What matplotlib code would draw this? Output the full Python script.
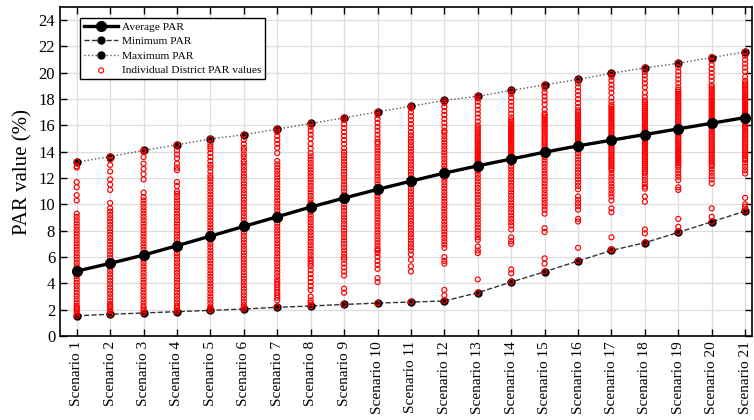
import numpy as np
import matplotlib
matplotlib.use('Agg')
import matplotlib.pyplot as plt

plt.rcParams['font.family'] = ['Liberation Serif', 'DejaVu Serif']

scenarios = ['Scenario ' + str(i) for i in range(1, 22)]

avg_par = [4.93, 5.52, 6.15, 6.86, 7.59, 8.33, 9.06, 9.8, 10.48, 11.14, 11.77,
           12.38, 12.93, 13.45, 13.97, 14.45, 14.88, 15.31, 15.74, 16.17, 16.6]
min_par = [1.54, 1.65, 1.75, 1.85, 1.95, 2.05, 2.18, 2.28, 2.4, 2.5, 2.58,
           2.66, 3.29, 4.1, 4.88, 5.7, 6.5, 7.09, 7.87, 8.68, 9.49]
max_par = [13.21, 13.64, 14.1, 14.53, 14.98, 15.29, 15.72, 16.15, 16.58, 17.03, 17.46,
           17.9, 18.22, 18.66, 19.08, 19.5, 19.97, 20.37, 20.73, 21.16, 21.59]

# individual district values per scenario
s01 = [13.25, 12.9, 12.8, 11.7, 11.3, 10.7, 10.3, 9.3, 9.05, 8.8, 8.55, 8.3, 8.05, 7.8, 7.55, 7.3,
       7.05, 6.8, 6.55, 6.3, 6.05, 5.8, 5.55, 5.3, 5.05, 4.8, 4.55, 4.3, 4.05, 3.8, 3.55, 3.3, 3.05,
       2.8, 2.55, 2.3, 2.15, 2.05, 1.9, 1.75, 1.55]
s02 = [13.65, 13.4, 13.0, 12.5, 11.9, 11.5, 11.1, 10.1, 9.7, 9.45, 9.2, 8.95, 8.7, 8.45, 8.2, 7.95,
       7.7, 7.45, 7.2, 6.95, 6.7, 6.45, 6.2, 5.95, 5.7, 5.45, 5.2, 4.95, 4.7, 4.45, 4.2, 3.95, 3.7,
       3.45, 3.2, 2.95, 2.7, 2.45, 2.3, 2.2, 2.05, 1.9, 1.65]
s03 = [14.1, 14.0, 13.6, 13.1, 12.7, 12.3, 11.9, 10.9, 10.55, 10.3, 10.05, 9.8, 9.55, 9.3, 9.05, 8.8,
       8.55, 8.3, 8.05, 7.8, 7.55, 7.3, 7.05, 6.8, 6.55, 6.3, 6.05, 5.8, 5.55, 5.3, 5.05, 4.8, 4.55,
       4.3, 4.05, 3.8, 3.55, 3.3, 3.05, 2.8, 2.55, 2.3, 2.1, 1.95, 1.75]
s04 = [14.55, 14.1, 13.8, 13.5, 13.1, 12.8, 12.6, 11.7, 11.4, 11.0, 10.8, 10.55, 10.3, 10.05, 9.8,
       9.55, 9.3, 9.05, 8.8, 8.55, 8.3, 8.05, 7.8, 7.55, 7.3, 7.05, 6.8, 6.55, 6.3, 6.05, 5.8, 5.55,
       5.3, 5.05, 4.8, 4.55, 4.3, 4.05, 3.8, 3.55, 3.3, 3.05, 2.8, 2.55, 2.3, 2.15, 2.0, 1.85]
s05 = [14.98, 14.6, 14.4, 14.2, 13.9, 13.6, 13.3, 13.0, 12.8, 12.5, 12.2, 12.0, 11.75, 11.5, 11.25,
       11.0, 10.75, 10.5, 10.25, 10.0, 9.75, 9.5, 9.25, 9.0, 8.75, 8.5, 8.25, 8.0, 7.75, 7.5, 7.25,
       7.0, 6.75, 6.5, 6.25, 6.0, 5.75, 5.5, 5.25, 5.0, 4.75, 4.5, 4.25, 4.0, 3.75, 3.5, 3.25, 3.0,
       2.75, 2.5, 2.25, 2.1, 1.95]
s06 = [15.3, 14.9, 14.6, 14.3, 14.1, 13.8, 13.6, 13.3, 13.1, 12.85, 12.6, 12.35, 12.1, 11.85, 11.6,
       11.35, 11.1, 10.85, 10.6, 10.35, 10.1, 9.85, 9.6, 9.35, 9.1, 8.85, 8.6, 8.35, 8.1, 7.85, 7.6,
       7.35, 7.1, 6.85, 6.6, 6.35, 6.1, 5.85, 5.6, 5.35, 5.1, 4.85, 4.6, 4.35, 4.1, 3.85, 3.6, 3.35,
       3.1, 2.85, 2.6, 2.35, 2.2, 2.05]
s07 = [15.72, 15.5, 15.2, 14.9, 14.6, 14.3, 13.9, 13.3, 13.05, 12.8, 12.55, 12.3, 12.05, 11.8,
       11.55, 11.3, 11.05, 10.8, 10.55, 10.3, 10.05, 9.8, 9.55, 9.3, 9.05, 8.8, 8.55, 8.3, 8.05, 7.8,
       7.55, 7.3, 7.05, 6.8, 6.55, 6.3, 6.05, 5.8, 5.55, 5.3, 5.05, 4.8, 4.55, 4.3, 4.1, 3.9, 3.7,
       3.5, 3.3, 3.1, 2.9, 2.7, 2.2]
s08 = [16.15, 15.9, 15.6, 15.3, 15.0, 14.6, 14.25, 13.9, 13.65, 13.4, 13.15, 12.9, 12.65, 12.4,
       12.15, 11.9, 11.65, 11.4, 11.15, 10.9, 10.65, 10.4, 10.15, 9.9, 9.65, 9.4, 9.15, 8.9, 8.65,
       8.4, 8.15, 7.9, 7.65, 7.4, 7.15, 6.9, 6.65, 6.4, 6.15, 5.9, 5.7, 5.5, 5.3, 5.0, 4.7, 4.4, 4.1,
       3.8, 3.5, 3.0, 2.7, 2.5, 2.28]
s09 = [16.6, 16.4, 16.1, 15.8, 15.5, 15.2, 14.9, 14.6, 14.25, 14.0, 13.75, 13.5, 13.25, 13.0,
       12.75, 12.5, 12.25, 12.0, 11.75, 11.5, 11.25, 11.0, 10.75, 10.5, 10.25, 10.0, 9.75, 9.5,
       9.25, 9.0, 8.75, 8.5, 8.25, 8.0, 7.75, 7.5, 7.25, 7.0, 6.75, 6.5, 6.25, 6.0, 5.8, 5.5, 5.2,
       4.9, 4.6, 3.6, 3.3, 2.4]
s10 = [17.03, 16.8, 16.5, 16.2, 15.9, 15.6, 15.3, 15.0, 14.75, 14.6, 14.35, 14.1, 13.85, 13.6,
       13.35, 13.1, 12.85, 12.6, 12.35, 12.1, 11.85, 11.6, 11.35, 11.1, 10.85, 10.6, 10.35, 10.1,
       9.85, 9.6, 9.35, 9.1, 8.85, 8.6, 8.35, 8.1, 7.85, 7.6, 7.35, 7.1, 6.85, 6.6, 6.5, 6.3, 6.0,
       5.7, 5.4, 5.1, 4.4, 4.1, 2.5]
s11 = [17.46, 17.3, 17.0, 16.7, 16.4, 16.1, 15.8, 15.5, 15.25, 15.0, 14.75, 14.5, 14.25, 14.0,
       13.75, 13.5, 13.25, 13.0, 12.75, 12.5, 12.25, 12.0, 11.75, 11.5, 11.25, 11.0, 10.75, 10.5,
       10.25, 10.0, 9.75, 9.5, 9.25, 9.0, 8.75, 8.5, 8.25, 8.0, 7.75, 7.5, 7.25, 7.0, 6.75, 6.5,
       6.2, 5.8, 5.3, 4.9, 2.6]
s12 = [17.9, 17.7, 17.4, 17.1, 16.8, 16.5, 16.2, 15.9, 15.6, 15.45, 15.2, 14.95, 14.7, 14.45,
       14.2, 13.95, 13.7, 13.45, 13.2, 12.95, 12.7, 12.45, 12.2, 11.95, 11.7, 11.45, 11.2, 10.95,
       10.7, 10.45, 10.2, 9.95, 9.7, 9.45, 9.2, 8.95, 8.7, 8.45, 8.2, 7.95, 7.7, 7.45, 7.2, 6.95,
       6.7, 6.0, 5.7, 5.5, 3.5, 3.1, 2.68]
s13 = [18.25, 18.05, 17.8, 17.5, 17.2, 16.9, 16.6, 16.3, 16.0, 15.85, 15.7, 15.55, 15.4, 15.25,
       15.1, 14.95, 14.8, 14.65, 14.5, 14.35, 14.2, 14.05, 13.9, 13.75, 13.6, 13.45, 13.3, 13.15,
       13.0, 12.75, 12.5, 12.25, 12.0, 11.75, 11.5, 11.25, 11.0, 10.75, 10.5, 10.25, 10.0, 9.75,
       9.5, 9.25, 9.0, 8.75, 8.5, 8.25, 8.0, 7.75, 7.5, 7.3, 6.8, 6.5, 6.3, 4.3, 3.3]
s14 = [18.66, 18.4, 18.1, 17.8, 17.5, 17.2, 16.9, 16.6, 16.4, 16.25, 16.1, 15.95, 15.8, 15.65,
       15.5, 15.35, 15.2, 15.05, 14.9, 14.75, 14.6, 14.45, 14.3, 14.15, 14.0, 13.85, 13.7, 13.55,
       13.4, 13.15, 12.9, 12.65, 12.4, 12.15, 11.9, 11.65, 11.4, 11.15, 10.9, 10.65, 10.4, 10.15,
       9.9, 9.65, 9.4, 9.15, 8.9, 8.65, 8.4, 8.1, 7.5, 7.2, 7.0, 5.06, 4.76, 4.1]
s15 = [19.1, 18.8, 18.5, 18.2, 17.9, 17.6, 17.2, 16.9, 16.8, 16.65, 16.5, 16.35, 16.2, 16.05,
       15.9, 15.75, 15.6, 15.45, 15.3, 15.15, 15.0, 14.85, 14.7, 14.55, 14.4, 14.25, 14.1, 13.95,
       13.8, 13.6, 13.35, 13.1, 12.85, 12.6, 12.35, 12.1, 11.85, 11.6, 11.35, 11.1, 10.85, 10.6,
       10.35, 10.1, 9.85, 9.6, 9.3, 8.2, 7.9, 5.9, 5.5, 4.9]
s16 = [19.5, 19.2, 18.9, 18.6, 18.3, 18.0, 17.7, 17.4, 17.15, 17.0, 16.85, 16.7, 16.55, 16.4,
       16.25, 16.1, 15.95, 15.8, 15.65, 15.5, 15.35, 15.2, 15.05, 14.9, 14.75, 14.6, 14.45, 14.3,
       14.15, 13.9, 13.65, 13.4, 13.15, 12.9, 12.65, 12.4, 12.15, 11.9, 11.65, 11.4, 11.15, 10.6,
       10.35, 10.1, 9.85, 9.6, 8.9, 8.7, 6.7, 5.72]
s17 = [19.95, 19.7, 19.4, 19.1, 18.8, 18.5, 18.1, 17.8, 17.55, 17.4, 17.25, 17.1, 16.95, 16.8,
       16.65, 16.5, 16.35, 16.2, 16.05, 15.9, 15.75, 15.6, 15.45, 15.3, 15.15, 15.0, 14.85, 14.7,
       14.55, 14.4, 14.25, 14.1, 13.95, 13.8, 13.65, 13.5, 13.35, 13.2, 13.05, 12.9, 12.75, 12.6,
       12.35, 12.1, 11.85, 11.6, 11.35, 11.1, 10.85, 10.6, 10.3, 9.7, 9.4, 7.5, 6.6, 6.53]
s18 = [20.4, 20.07, 19.8, 19.5, 19.2, 18.9, 18.5, 18.17, 17.9, 17.75, 17.6, 17.45, 17.3, 17.15,
       17.0, 16.85, 16.7, 16.55, 16.4, 16.25, 16.1, 15.95, 15.8, 15.65, 15.5, 15.35, 15.2, 15.05,
       14.9, 14.75, 14.6, 14.45, 14.3, 14.15, 14.0, 13.85, 13.7, 13.55, 13.4, 13.25, 13.1, 12.95,
       12.8, 12.65, 12.5, 12.35, 12.1, 11.85, 11.6, 11.35, 11.2, 10.6, 10.2, 8.1, 7.8, 7.1]
s19 = [20.75, 20.4, 20.1, 19.8, 19.5, 19.2, 18.9, 18.7, 18.55, 18.4, 18.25, 18.1, 17.95, 17.8,
       17.65, 17.5, 17.35, 17.2, 17.05, 16.9, 16.75, 16.6, 16.45, 16.3, 16.15, 16.0, 15.85, 15.7,
       15.55, 15.4, 15.25, 15.1, 14.95, 14.8, 14.65, 14.5, 14.35, 14.2, 14.05, 13.9, 13.75, 13.6,
       13.45, 13.3, 13.15, 13.0, 12.85, 12.6, 12.35, 12.1, 11.85, 11.3, 11.1, 8.9, 8.3, 7.9]
s20 = [21.2, 20.95, 20.6, 20.3, 20.0, 19.7, 19.4, 19.06, 18.9, 18.75, 18.6, 18.45, 18.3, 18.15,
       18.0, 17.85, 17.7, 17.55, 17.4, 17.25, 17.1, 16.95, 16.8, 16.65, 16.5, 16.35, 16.2, 16.05,
       15.9, 15.75, 15.6, 15.45, 15.3, 15.15, 15.0, 14.85, 14.7, 14.55, 14.4, 14.25, 14.1, 13.95,
       13.8, 13.65, 13.5, 13.35, 13.2, 13.05, 12.9, 12.65, 12.4, 12.15, 11.9, 11.6, 9.7, 9.06, 8.68]
s21 = [21.6, 21.3, 21.0, 20.7, 20.4, 20.1, 19.7, 19.4, 19.2, 19.05, 18.9, 18.75, 18.6, 18.45,
       18.3, 18.15, 18.0, 17.85, 17.7, 17.55, 17.4, 17.25, 17.1, 16.95, 16.8, 16.65, 16.5, 16.35,
       16.2, 16.05, 15.9, 15.75, 15.6, 15.45, 15.3, 15.15, 15.0, 14.85, 14.7, 14.55, 14.4, 14.25,
       14.1, 13.95, 13.8, 13.65, 13.5, 13.35, 13.1, 12.85, 12.6, 12.35, 10.5, 10.0, 9.8, 9.49]

district_par = [s01, s02, s03, s04, s05, s06, s07, s08, s09, s10, s11,
                s12, s13, s14, s15, s16, s17, s18, s19, s20, s21]

x = np.arange(1, len(scenarios) + 1)

fig = plt.figure(figsize=(7.54, 4.2), dpi=100)
ax = fig.add_axes([0.0796, 0.2, 0.9175, 0.7833])

# min / max under the district points, average on top
l_min, = ax.plot(x, min_par, '--', color='#333333', lw=1.0, marker='o', ms=5,
                 mfc='black', mec='black', zorder=2)
l_max, = ax.plot(x, max_par, ':', color='#555555', lw=1.0, marker='o', ms=5,
                 mfc='black', mec='black', zorder=2)

xs = []
ys = []
for i, vals in enumerate(district_par):
    xs += [x[i]] * len(vals)
    ys += vals
sc = ax.scatter(xs, ys, s=13, facecolors='none', edgecolors='red', linewidths=0.85, zorder=3)

l_avg, = ax.plot(x, avg_par, '-', color='black', lw=2.4, marker='o', ms=7,
                 mfc='black', mec='black', zorder=4)

ax.set_xlim(0.5, 21.2)
ax.set_ylim(0, 25)
ax.set_xticks(x)
ax.set_xticklabels(scenarios, rotation=90, fontsize=11)
ax.set_yticks(np.arange(0, 25, 2))
ax.tick_params(axis='y', labelsize=12)
ax.tick_params(direction='in', top=True, right=True, length=5, width=1)
ax.grid(True, color='#dddddd', lw=0.9, zorder=0)
ax.set_axisbelow(True)
for sp in ax.spines.values():
    sp.set_linewidth(1.2)
ax.set_ylabel('PAR value (%)', fontsize=15)

leg = ax.legend([l_avg, l_min, l_max, sc],
                ['Average PAR', 'Minimum PAR', 'Maximum PAR', 'Individual District PAR values'],
                loc='upper left', bbox_to_anchor=(0.029, 0.967), borderaxespad=0,
                fontsize=8.2, handlelength=3.0, handletextpad=0.3, labelspacing=0.4,
                fancybox=False, edgecolor='black', framealpha=1, borderpad=0.35)
leg.get_frame().set_linewidth(1.0)

fig.savefig('out.png', dpi=100)
